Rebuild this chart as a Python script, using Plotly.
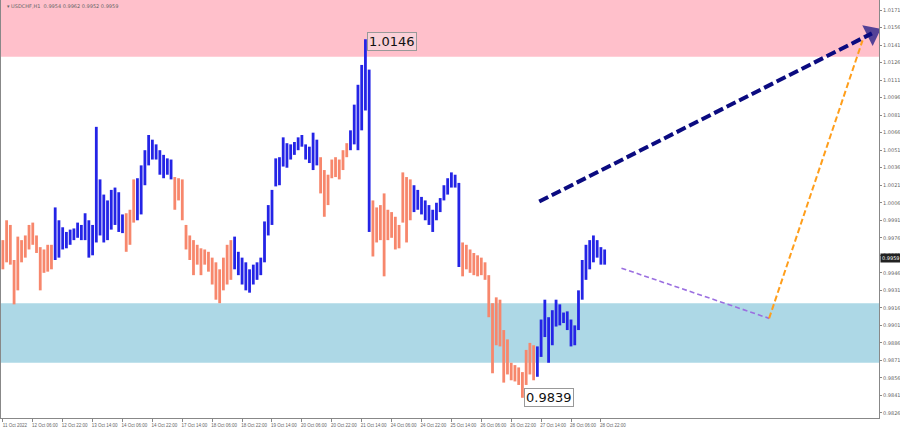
import plotly.graph_objects as go

# ---------------- data ----------------
# H1 bars sampled every 2 hours; x = hours since 11 Oct 2022 (trading hours only)
bar_step_hours = 2
high = [0.9974, 0.9991, 0.9987, 0.9957, 0.9977, 0.9974, 0.9978, 0.9987, 0.9989, 0.9978,
        0.9968, 0.9966, 0.9970, 0.9970, 1.0002, 0.9991, 0.9985, 0.9981, 0.9983, 0.9984,
        0.9989, 0.9987, 0.9997, 0.9991, 0.9987, 1.0071, 1.0026, 1.0013, 1.0008, 1.0017,
        1.0019, 1.0015, 0.9996, 0.9997, 1.0000, 1.0026, 1.0027, 1.0038, 1.0051, 1.0064,
        1.0060, 1.0056, 1.0051, 1.0047, 1.0044, 1.0043, 1.0028, 1.0027, 1.0026, 0.9987,
        0.9978, 0.9974, 0.9970, 0.9967, 0.9966, 0.9964, 0.9959, 0.9955, 0.9949, 0.9959,
        0.9970, 0.9974, 0.9977, 0.9964, 0.9959, 0.9955, 0.9949, 0.9953, 0.9955, 0.9959,
        0.9990, 1.0004, 1.0017, 1.0044, 1.0045, 1.0062, 1.0057, 1.0056, 1.0058, 1.0062,
        1.0064, 1.0056, 1.0054, 1.0066, 1.0060, 1.0045, 1.0034, 1.0030, 1.0043, 1.0045,
        1.0043, 1.0051, 1.0057, 1.0068, 1.0090, 1.0107, 1.0124, 1.0146, 1.0120, 1.0008,
        1.0002, 1.0004, 1.0014, 1.0000, 0.9998, 0.9994, 0.9987, 1.0032, 1.0028, 1.0026,
        1.0021, 1.0017, 1.0011, 1.0008, 1.0004, 1.0000, 1.0006, 1.0010, 1.0021, 1.0027,
        1.0032, 1.0030, 1.0023, 0.9972, 0.9970, 0.9966, 0.9963, 0.9961, 0.9959, 0.9955,
        0.9944, 0.9920, 0.9925, 0.9923, 0.9897, 0.9889, 0.9869, 0.9867, 0.9865, 0.9861,
        0.9880, 0.9886, 0.9884, 0.9883, 0.9906, 0.9923, 0.9908, 0.9914, 0.9923, 0.9919,
        0.9912, 0.9913, 0.9906, 0.9901, 0.9931, 0.9957, 0.9970, 0.9974, 0.9978, 0.9974,
        0.9968, 0.9966]
low = [0.9949, 0.9955, 0.9953, 0.9919, 0.9931, 0.9955, 0.9959, 0.9966, 0.9970, 0.9963,
       0.9931, 0.9946, 0.9947, 0.9949, 0.9957, 0.9959, 0.9966, 0.9967, 0.9970, 0.9974,
       0.9976, 0.9974, 0.9974, 0.9959, 0.9961, 0.9972, 0.9978, 0.9972, 0.9974, 0.9983,
       0.9987, 0.9981, 0.9980, 0.9964, 0.9970, 0.9989, 0.9991, 0.9996, 1.0021, 1.0038,
       1.0043, 1.0043, 1.0030, 1.0027, 1.0030, 1.0026, 1.0000, 1.0008, 0.9991, 0.9966,
       0.9957, 0.9944, 0.9953, 0.9944, 0.9953, 0.9947, 0.9936, 0.9923, 0.9920, 0.9931,
       0.9936, 0.9940, 0.9949, 0.9944, 0.9936, 0.9931, 0.9929, 0.9936, 0.9940, 0.9944,
       0.9955, 0.9978, 0.9987, 1.0020, 1.0021, 1.0037, 1.0036, 1.0043, 1.0047, 1.0051,
       1.0054, 1.0043, 1.0040, 1.0034, 1.0038, 1.0014, 0.9994, 1.0004, 1.0027, 1.0028,
       1.0026, 1.0034, 1.0045, 1.0051, 1.0056, 1.0051, 1.0068, 1.0085, 0.9981, 0.9960,
       0.9972, 0.9974, 0.9943, 0.9974, 0.9976, 0.9966, 0.9967, 0.9989, 0.9972, 0.9991,
       0.9998, 1.0000, 0.9996, 0.9991, 0.9987, 0.9981, 0.9991, 0.9998, 1.0008, 1.0013,
       1.0019, 1.0019, 0.9951, 0.9943, 0.9949, 0.9946, 0.9944, 0.9943, 0.9944, 0.9940,
       0.9908, 0.9860, 0.9884, 0.9883, 0.9852, 0.9859, 0.9854, 0.9853, 0.9850, 0.9839,
       0.9850, 0.9859, 0.9854, 0.9857, 0.9874, 0.9891, 0.9869, 0.9884, 0.9900, 0.9901,
       0.9903, 0.9897, 0.9883, 0.9884, 0.9897, 0.9923, 0.9940, 0.9949, 0.9955, 0.9959,
       0.9953, 0.9953]
# wave segments (number of sampled bars in each), alternating direction
wave_lengths = [14, 19, 3, 10, 16, 23, 8, 6, 11, 13, 20, 19]
first_wave = "down"

x_tick_hours = [0, 16, 32, 48, 64, 80, 96, 112, 128, 144, 160, 176, 192, 208, 224,
                240, 256, 272, 288, 304, 320]
x_tick_labels = ["11 Oct 2022", "12 Oct 06:00", "12 Oct 22:00", "13 Oct 14:00", "14 Oct 06:00",
                 "14 Oct 22:00", "17 Oct 14:00", "18 Oct 06:00", "18 Oct 22:00", "19 Oct 14:00",
                 "20 Oct 06:00", "20 Oct 22:00", "21 Oct 14:00", "24 Oct 06:00", "24 Oct 22:00",
                 "25 Oct 14:00", "26 Oct 06:00", "26 Oct 22:00", "27 Oct 14:00", "28 Oct 06:00",
                 "28 Oct 22:00"]
y_tick_values = [1.0171, 1.0156, 1.0141, 1.0126, 1.0111, 1.0096, 1.0081, 1.0066, 1.0051,
                 1.0036, 1.0021, 1.0006, 0.9991, 0.9976, 0.9961, 0.9946, 0.9931, 0.9916,
                 0.9901, 0.9886, 0.9871, 0.9856, 0.9841, 0.9826]

resistance_zone = [1.0131, 1.0185]
support_zone = [0.9869, 0.9920]

peak_label = 1.0146
trough_label = 0.9839
last_price = 0.9959
header = "\u25be USDCHF,H1  0.9954 0.9962 0.9952 0.9959"

# forecast paths (hour, price)
navy_hours = [287, 465]
navy_prices = [1.0007, 1.0151]
purple_hours = [331, 410]
purple_prices = [0.9950, 0.9907]
orange_hours = [410, 460]
orange_prices = [0.9907, 1.0145]

x_range = [-1, 468.8]
y_range = [0.98217, 1.01796]

# ---------------- build ----------------
BLUE = "#2424E6"
SALMON = "#F7876C"

hours = [i * bar_step_hours for i in range(len(high))]
direction = []
d = first_wave
for n in wave_lengths:
    direction += [d] * n
    d = "up" if d == "down" else "down"

fig = go.Figure()
for dname, col in (("down", SALMON), ("up", BLUE)):
    idx = [i for i in range(len(high)) if direction[i] == dname]
    fig.add_trace(go.Bar(
        x=[hours[i] for i in idx],
        y=[high[i] - low[i] for i in idx],
        base=[low[i] for i in idx],
        width=1.5,
        marker=dict(color=col, line=dict(width=0)),
        hoverinfo="skip", showlegend=False,
    ))

fig.add_trace(go.Scatter(x=purple_hours, y=purple_prices, mode="lines",
                         line=dict(color="#9B6FE0", width=1.6, dash="5px,3px"),
                         showlegend=False, hoverinfo="skip"))
fig.add_trace(go.Scatter(x=orange_hours, y=orange_prices, mode="lines",
                         line=dict(color="#FF9E1B", width=2, dash="6px,3px"),
                         showlegend=False, hoverinfo="skip"))
fig.add_trace(go.Scatter(x=navy_hours, y=navy_prices, mode="lines+markers",
                         line=dict(color="#0B0B80", width=4, dash="10px,4px"),
                         marker=dict(symbol="triangle-up", size=[0, 20], color="#0B0B80",
                                     angleref="previous", line=dict(width=0)),
                         showlegend=False, hoverinfo="skip"))

fig.add_shape(type="rect", xref="paper", x0=0, x1=1, yref="y",
              y0=resistance_zone[0], y1=resistance_zone[1],
              fillcolor="#FFC0CB", line=dict(width=0), layer="below")
fig.add_shape(type="rect", xref="paper", x0=0, x1=1, yref="y",
              y0=support_zone[0], y1=support_zone[1],
              fillcolor="#ADD8E6", line=dict(width=0), layer="below")

peak_i = high.index(peak_label)
trough_i = low.index(trough_label)
fig.add_annotation(x=hours[peak_i], y=peak_label, text=f"{peak_label:.4f}",
                   showarrow=False, xanchor="left", yanchor="middle", xshift=2, yshift=-2,
                   font=dict(family="DejaVu Sans", size=13, color="#111"),
                   bgcolor="rgba(240,240,240,0.35)", bordercolor="#999", borderwidth=1, borderpad=1)
fig.add_annotation(x=hours[trough_i], y=trough_label, text=f"{trough_label:.4f}",
                   showarrow=False, xanchor="left", yanchor="middle", xshift=2, yshift=0,
                   font=dict(family="DejaVu Sans", size=13, color="#111"),
                   bgcolor="#FFFFFF", bordercolor="#999", borderwidth=1, borderpad=1)
fig.add_annotation(xref="paper", x=1, y=last_price, text=f"{last_price:.4f}",
                   showarrow=False, xanchor="left", yanchor="middle", xshift=1,
                   font=dict(family="DejaVu Sans", size=5, color="#FFFFFF"),
                   bgcolor="#222222", borderpad=1)
fig.add_annotation(xref="paper", yref="paper", x=0.004, y=0.997, text=header,
                   showarrow=False, xanchor="left", yanchor="top",
                   font=dict(family="DejaVu Sans", size=5, color="#666"))

fig.update_layout(
    width=900, height=430,
    margin=dict(l=1, r=21, t=0, b=12, autoexpand=False),
    paper_bgcolor="#FFFFFF", plot_bgcolor="#FFFFFF",
    barmode="overlay",
    xaxis=dict(range=x_range, tickvals=x_tick_hours, ticktext=x_tick_labels,
               showgrid=False, zeroline=False, showline=True, linecolor="#888",
               linewidth=1, mirror=True, ticks="outside", ticklen=3, tickcolor="#888",
               tickangle=0, automargin=False,
               tickfont=dict(family="Liberation Sans", size=4.5, color="#666"),
               ticklabelshift=12, ticklabelstandoff=0),
    yaxis=dict(range=y_range, side="right", tickvals=y_tick_values,
               ticktext=[f"{v:.4f}" for v in y_tick_values], automargin=False,
               showgrid=False, zeroline=False, showline=True, linecolor="#888",
               linewidth=1, mirror=True, ticks="outside", ticklen=2, tickcolor="#888",
               tickfont=dict(family="DejaVu Sans", size=5, color="#666")),
)

fig.write_html("out.html", config={"displayModeBar": False},
               post_script="document.body.style.margin='0';document.body.style.overflow='hidden';")
